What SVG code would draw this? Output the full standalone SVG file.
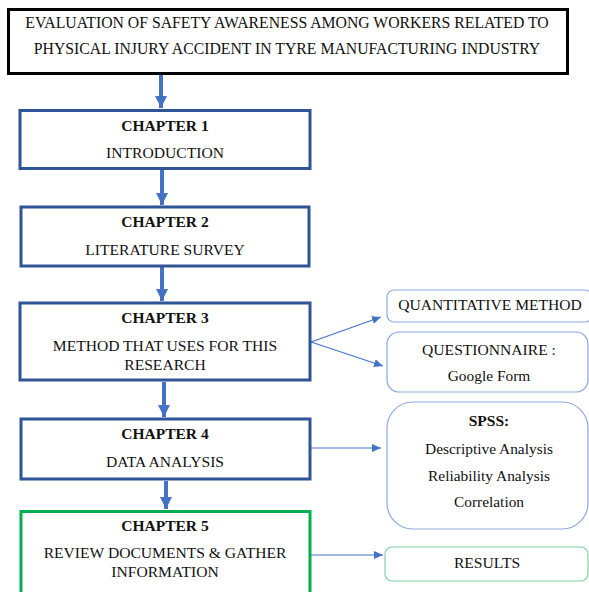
<svg xmlns="http://www.w3.org/2000/svg" width="589" height="592" viewBox="0 0 589 592">
<style>
text{font-family:'Liberation Serif','Times New Roman',serif;fill:#111;text-anchor:middle}
.t{font-size:15.6px}
.tt{font-size:15.75px}
.b{font-size:15.5px;font-weight:bold}
.s{font-size:15.4px}
.ch{fill:#fff;stroke:#2F5597;stroke-width:3}
.side{fill:#fff;stroke:#8EA9DB;stroke-width:1.2}
.thick{stroke:#4472C4;stroke-width:4;fill:none}
.thin{stroke:#4472C4;stroke-width:1.2;fill:none}
</style>
<defs>
<marker id="big" markerUnits="userSpaceOnUse" markerWidth="14" markerHeight="12" refX="12" refY="6" orient="auto"><path d="M0,0 L12,6 L0,12 Z" fill="#4472C4"/></marker>
<marker id="sm" markerUnits="userSpaceOnUse" markerWidth="10" markerHeight="8" refX="9" refY="4" orient="auto"><path d="M0,0 L9,4 L0,8 Z" fill="#4472C4"/></marker>
</defs>
<rect width="589" height="592" fill="#fff"/>
<g id="connectors">
<line class="thick" x1="161" y1="75" x2="161" y2="108" marker-end="url(#big)"/>
<line class="thick" x1="162" y1="170" x2="162" y2="205" marker-end="url(#big)"/>
<line class="thick" x1="162" y1="267" x2="162" y2="301" marker-end="url(#big)"/>
<line class="thick" x1="164" y1="382" x2="164" y2="417" marker-end="url(#big)"/>
<line class="thick" x1="166" y1="481" x2="166" y2="509" marker-end="url(#big)"/>
<line class="thin" x1="311" y1="342" x2="381" y2="317" marker-end="url(#sm)"/>
<line class="thin" x1="311" y1="342" x2="383" y2="366" marker-end="url(#sm)"/>
<line class="thin" x1="311" y1="448" x2="381" y2="448" marker-end="url(#sm)"/>
<line class="thin" x1="311" y1="555" x2="383" y2="555" marker-end="url(#sm)"/>
</g>
<g id="title">
<rect x="8.5" y="9.5" width="559" height="64" fill="#fff" stroke="#000" stroke-width="3"/>
<text class="tt" x="287" y="28">EVALUATION OF SAFETY AWARENESS AMONG WORKERS RELATED TO</text>
<text class="tt" x="287" y="54">PHYSICAL INJURY ACCIDENT IN TYRE MANUFACTURING INDUSTRY</text>
</g>
<g id="ch1">
<rect class="ch" x="20" y="110.5" width="290" height="58"/>
<text class="b" x="165" y="131">CHAPTER 1</text>
<text class="t" x="165" y="158">INTRODUCTION</text>
</g>
<g id="ch2">
<rect class="ch" x="21" y="207" width="288" height="59"/>
<text class="b" x="165" y="227">CHAPTER 2</text>
<text class="t" x="165" y="255">LITERATURE SURVEY</text>
</g>
<g id="ch3">
<rect class="ch" x="20" y="303" width="290" height="77"/>
<text class="b" x="165" y="323">CHAPTER 3</text>
<text class="t" x="165" y="351">METHOD THAT USES FOR THIS</text>
<text class="t" x="165" y="370">RESEARCH</text>
</g>
<g id="ch4">
<rect class="ch" x="21" y="419" width="289" height="60"/>
<text class="b" x="165" y="439">CHAPTER 4</text>
<text class="t" x="165" y="467">DATA ANALYSIS</text>
</g>
<g id="ch5">
<rect x="21" y="511.5" width="289" height="90" fill="#fff" stroke="#00B050" stroke-width="3"/>
<text class="b" x="165" y="531">CHAPTER 5</text>
<text class="t" x="165" y="558">REVIEW DOCUMENTS &amp; GATHER</text>
<text class="t" x="165" y="577">INFORMATION</text>
</g>
<g id="quant">
<rect class="side" x="387" y="290" width="205" height="32" rx="7"/>
<text class="t" x="490" y="310">QUANTITATIVE METHOD</text>
</g>
<g id="quest">
<rect class="side" x="387" y="332" width="201" height="60" rx="12"/>
<text class="t" x="489" y="355">QUESTIONNAIRE :</text>
<text class="s" x="489" y="381">Google Form</text>
</g>
<g id="spss">
<rect class="side" x="387" y="402" width="201" height="127" rx="26"/>
<text class="b" x="489" y="426">SPSS:</text>
<text class="s" x="489" y="454">Descriptive Analysis</text>
<text class="s" x="489" y="481">Reliability Analysis</text>
<text class="s" x="489" y="507">Correlation</text>
</g>
<g id="results">
<rect x="385" y="547" width="203" height="34" rx="7" fill="#fff" stroke="#7FD3A0" stroke-width="1.2"/>
<text class="t" x="487" y="568">RESULTS</text>
</g>
</svg>
